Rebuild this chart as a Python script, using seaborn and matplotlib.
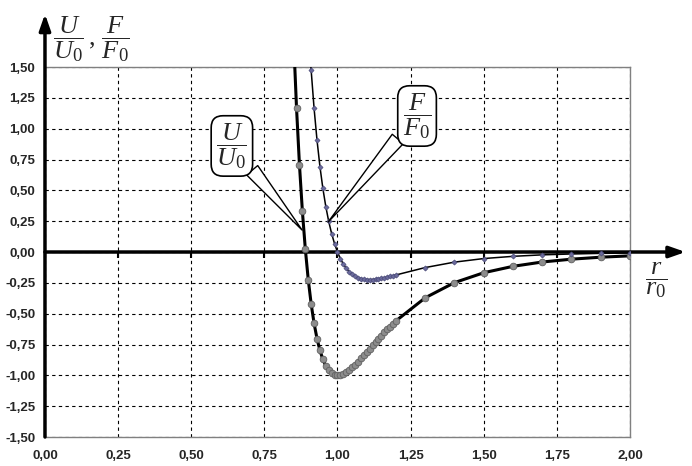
import numpy as np
import matplotlib
matplotlib.use("Agg")
import matplotlib.pyplot as plt
import seaborn as sns
from matplotlib.ticker import FixedLocator, FuncFormatter

# r / r0 sample points (dense around the minimum, coarse on the tail)
r_values = [0.85, 0.86, 0.87, 0.88, 0.89, 0.90, 0.91, 0.92, 0.93, 0.94,
            0.95, 0.96, 0.97, 0.98, 0.99, 1.00, 1.01, 1.02, 1.03, 1.04,
            1.05, 1.06, 1.07, 1.08, 1.09, 1.10, 1.11, 1.12, 1.13, 1.14,
            1.15, 1.16, 1.17, 1.18, 1.19, 1.20, 1.3, 1.4, 1.5, 1.6,
            1.7, 1.8, 1.9, 2.0]

# U / U0 (thick curve)
u_values = [1.727, 1.166, 0.706, 0.330, 0.025, -0.223, -0.421, -0.579, -0.702, -0.798,
            -0.870, -0.923, -0.960, -0.983, -0.996, -1.000, -0.997, -0.988, -0.974, -0.956,
            -0.936, -0.913, -0.889, -0.863, -0.837, -0.810, -0.783, -0.757, -0.730, -0.704,
            -0.678, -0.652, -0.628, -0.604, -0.580, -0.558, -0.371, -0.248, -0.168, -0.116,
            -0.081, -0.058, -0.042, -0.031]

# F / F0 (thin curve)
f_values = [5.151, 4.230, 3.462, 2.822, 2.288, 1.843, 1.473, 1.164, 0.907, 0.693,
            0.516, 0.369, 0.248, 0.149, 0.067, 0.000, -0.054, -0.098, -0.132, -0.159,
            -0.180, -0.196, -0.208, -0.216, -0.221, -0.223, -0.224, -0.223, -0.221, -0.218,
            -0.213, -0.209, -0.203, -0.198, -0.192, -0.186, -0.126, -0.082, -0.053, -0.035,
            -0.023, -0.016, -0.011, -0.008]

x_ticks = [0.0, 0.25, 0.5, 0.75, 1.0, 1.25, 1.5, 1.75, 2.0]
y_ticks = [-1.5, -1.25, -1.0, -0.75, -0.5, -0.25, 0.0, 0.25, 0.5, 0.75, 1.0, 1.25, 1.5]


def comma_fmt(v, pos=None):
    return f"{v:.2f}".replace(".", ",")


def main():
    sns.set_style("white")
    plt.rcParams["font.family"] = ["Liberation Sans", "DejaVu Sans"]
    plt.rcParams["mathtext.fontset"] = "custom"
    plt.rcParams["mathtext.it"] = "Liberation Serif:italic"
    plt.rcParams["mathtext.rm"] = "Liberation Serif"

    fig = plt.figure(figsize=(6.92, 4.66), dpi=100)
    ax = fig.add_axes([0.065, 0.0622, 0.8454, 0.794])

    # curves
    sns.lineplot(x=r_values, y=u_values, estimator=None, sort=False, ax=ax,
                 color="black", linewidth=2.2, marker="o", markersize=4.8,
                 markerfacecolor="#8c8c8c", markeredgecolor="#606060",
                 markeredgewidth=0.6, zorder=4)
    sns.lineplot(x=r_values, y=f_values, estimator=None, sort=False, ax=ax,
                 color="black", linewidth=1.1, marker="D", markersize=2.6,
                 markerfacecolor="#6a6a9c", markeredgecolor="#4a4a78",
                 markeredgewidth=0.5, zorder=4)

    ax.set_xlim(0, 2.0)
    ax.set_ylim(-1.5, 1.5)
    ax.xaxis.set_major_locator(FixedLocator(x_ticks))
    ax.yaxis.set_major_locator(FixedLocator(y_ticks))
    ax.xaxis.set_major_formatter(FuncFormatter(comma_fmt))
    ax.yaxis.set_major_formatter(FuncFormatter(comma_fmt))
    for lab in ax.get_xticklabels() + ax.get_yticklabels():
        lab.set_fontweight("bold")
        lab.set_fontsize(9.5)
    ax.tick_params(axis="x", length=0, pad=9)
    ax.tick_params(axis="y", length=3, width=1.5, color="black", direction="out", pad=4)

    ax.set_axisbelow(True)
    ax.grid(True, color="black", linestyle=(0, (3, 3)), linewidth=0.8)

    for side in ["top", "right", "bottom"]:
        ax.spines[side].set_color("#808080")
        ax.spines[side].set_linewidth(1.0)
    ax.spines["left"].set_visible(False)

    # axes with arrows
    arrow_kw = dict(arrowstyle="-|>,head_length=0.8,head_width=0.28",
                    lw=2.5, color="black", mutation_scale=12,
                    shrinkA=0, shrinkB=0)
    ax.annotate("", xy=(0, 1.93), xytext=(0, -1.5), arrowprops=arrow_kw,
                annotation_clip=False, zorder=3)
    ax.annotate("", xy=(2.19, 0), xytext=(0, 0), arrowprops=arrow_kw,
                annotation_clip=False, zorder=3)
    ax.plot(x_ticks, np.zeros(len(x_ticks)), linestyle="none", marker=3,
            markersize=4, markeredgewidth=1.5, color="black", zorder=3,
            clip_on=False)

    # axis titles
    fig.text(53 / 692, 1 - 39 / 466, r"$\dfrac{U}{U_0}\,,\,\dfrac{F}{F_0}$",
             ha="left", va="center", fontsize=19)
    fig.text(656 / 692, 1 - 280 / 466, r"$\dfrac{r}{r_0}$",
             ha="center", va="center", fontsize=19)

    # callouts
    box = dict(boxstyle="round,pad=0.2,rounding_size=0.45", fc="white",
               ec="black", lw=1.2)
    wedge = dict(arrowstyle="wedge,tail_width=0.55", fc="white", ec="black",
                 lw=1.0, shrinkA=0, shrinkB=0)
    ax.annotate(r"$\dfrac{U}{U_0}$", xy=(0.879, 0.178), xytext=(0.639, 0.86),
                ha="center", va="center", fontsize=19, bbox=box,
                arrowprops=wedge, zorder=6)
    ax.annotate(r"$\dfrac{F}{F_0}$", xy=(0.968, 0.243), xytext=(1.272, 1.103),
                ha="center", va="center", fontsize=19, bbox=box,
                arrowprops=wedge, zorder=6)

    fig.savefig("out.png", dpi=100)


if __name__ == "__main__":
    main()
